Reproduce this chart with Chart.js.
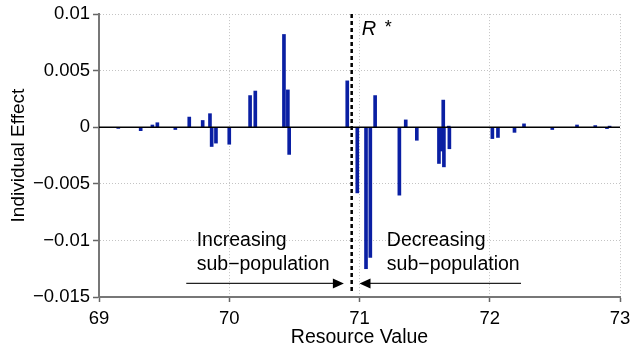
<!DOCTYPE html>
<html>
<head>
<meta charset="utf-8">
<script src="https://cdn.jsdelivr.net/npm/chart.js@4/dist/chart.umd.min.js"></script>
<style>
  html, body { margin: 0; padding: 0; background: #fff; }
  canvas { display: block; }
</style>
</head>
<body>
<canvas id="effectChart" width="633" height="345"></canvas>
<script>
// resource value of each individual and its effect
var resourceValues = [69.148, 69.32, 69.41, 69.448, 69.586, 69.693, 69.796, 69.852, 69.865, 69.898,
    70.0, 70.16, 70.20, 70.42, 70.45, 70.46, 70.906, 70.983, 71.05, 71.083,
    71.12, 71.306, 71.355, 71.44, 71.61, 71.63, 71.643, 71.648, 71.685, 71.69,
    72.02, 72.063, 72.19, 72.263, 72.48, 72.67, 72.81, 72.9, 72.92];
var effects = [-0.0001, -0.0003, 0.0002, 0.0004, -0.0002, 0.0009, 0.0006, 0.0012, -0.0017, -0.0014,
    -0.0015, 0.0028, 0.0032, 0.0082, 0.0033, -0.0024, 0.0041, -0.0058, -0.0125, -0.0115,
    0.0028, -0.006, 0.00065, -0.00115, -0.0032, -0.0021, 0.0024, -0.0035, 0.0001, -0.0019,
    -0.001, -0.0009, -0.00045, 0.0003, -0.0002, 0.0002, 0.00015, -0.00012, 0.0001];

var xTicks = [69, 70, 71, 72, 73];
var yTicks = [0.01, 0.005, 0, -0.005, -0.01, -0.015];
var rStar = 70.94;

// arrows under the labels: [from, to] in resource value, at one effect level
var arrowLevel = -0.0138;
var increasingArrow = [69.67, 70.88];
var decreasingArrow = [72.24, 71.0];

var font = "'Liberation Sans', Arial, Helvetica, sans-serif";

var bars = resourceValues.map(function (x, i) { return { x: x, y: effects[i] }; });

function fmt(v) {
    var r = Math.round(v * 1000) / 1000;
    return String(r).replace('-', '\u2212');
}

var annotations = {
    id: 'annotations',
    afterDatasetsDraw: function (chart) {
        var ctx = chart.ctx;
        var xs = chart.scales.x, ys = chart.scales.y;
        var rx = xs.getPixelForValue(rStar);
        ctx.save();

        // R* label
        ctx.fillStyle = '#000';
        ctx.textBaseline = 'alphabetic';
        ctx.font = 'italic 20px ' + font;
        ctx.fillText('R', rx + 10, 35);
        ctx.font = '18px ' + font;
        ctx.fillText('*', rx + 33, 33);

        // sub-population labels
        ctx.font = '19.5px ' + font;
        ctx.fillText('Increasing', xs.getPixelForValue(69.75), 246);
        ctx.fillText('sub\u2212population', xs.getPixelForValue(69.75), 270);
        ctx.fillText('Decreasing', xs.getPixelForValue(71.21), 246);
        ctx.fillText('sub\u2212population', xs.getPixelForValue(71.21), 270);

        function arrow(from, to) {
            var y = ys.getPixelForValue(arrowLevel);
            var x0 = xs.getPixelForValue(from), x1 = xs.getPixelForValue(to);
            var dir = x1 > x0 ? 1 : -1;
            ctx.strokeStyle = '#222';
            ctx.lineWidth = 1.3;
            ctx.beginPath();
            ctx.moveTo(x0, y);
            ctx.lineTo(x1 - dir * 8, y);
            ctx.stroke();
            ctx.fillStyle = '#000';
            ctx.beginPath();
            ctx.moveTo(x1, y);
            ctx.lineTo(x1 - dir * 11, y - 5);
            ctx.lineTo(x1 - dir * 11, y + 5);
            ctx.closePath();
            ctx.fill();
        }
        arrow(increasingArrow[0], increasingArrow[1]);
        arrow(decreasingArrow[0], decreasingArrow[1]);
        ctx.restore();
    }
};

new Chart(document.getElementById('effectChart'), {
    type: 'bar',
    data: {
        datasets: [{
            type: 'line',
            data: [{ x: 69, y: 0 }, { x: 73, y: 0 }],
            borderColor: '#000',
            borderWidth: 1.5,
            pointRadius: 0,
            order: 0
        }, {
            type: 'line',
            data: [{ x: rStar, y: 0.01 }, { x: rStar, y: -0.0146 }],
            borderColor: '#000',
            borderWidth: 2.5,
            borderDash: [4, 3],
            pointRadius: 0,
            order: 0
        }, {
            data: bars,
            backgroundColor: '#0a1fa3',
            borderWidth: 0,
            barThickness: 3,
            order: 1
        }]
    },
    options: {
        responsive: false,
        animation: false,
        layout: { padding: { top: 14, right: 13 } },
        plugins: {
            legend: { display: false },
            tooltip: { enabled: false }
        },
        scales: {
            x: {
                type: 'linear',
                min: 69,
                max: 73,
                offset: false,
                afterBuildTicks: function (s) { s.ticks = xTicks.map(function (v) { return { value: v }; }); },
                afterFit: function (s) {
                    s.height = 48;
                    // keep the plot edges fixed regardless of label padding
                    s.paddingLeft = 0;
                    s.paddingRight = 13;
                },
                ticks: {
                    color: '#000',
                    font: { family: font, size: 18.5 },
                    padding: 6,
                    maxRotation: 0
                },
                grid: {
                    color: '#c4c4c4',
                    offset: false,
                    tickLength: 5,
                    tickColor: '#666',
                    tickWidth: 1.5
                },
                border: { color: '#777', width: 2, dash: [1, 2] },
                title: {
                    display: true,
                    text: 'Resource Value',
                    color: '#000',
                    font: { family: font, size: 19.5 },
                    padding: { top: 0, bottom: -4 }
                }
            },
            y: {
                min: -0.015,
                max: 0.01,
                afterBuildTicks: function (s) { s.ticks = yTicks.map(function (v) { return { value: v }; }); },
                afterFit: function (s) { s.width = 99; },
                ticks: {
                    color: '#000',
                    font: { family: font, size: 18.5 },
                    padding: 3,
                    callback: function (v) { return fmt(v); }
                },
                grid: {
                    color: '#c4c4c4',
                    tickLength: 6,
                    tickColor: '#666',
                    tickWidth: 1.5
                },
                border: { color: '#777', width: 2, dash: [1, 2] },
                title: {
                    display: true,
                    text: 'Individual Effect',
                    color: '#000',
                    font: { family: font, size: 19 },
                    padding: { top: 7, bottom: 0 }
                }
            }
        }
    },
    plugins: [annotations]
});
</script>
</body>
</html>
